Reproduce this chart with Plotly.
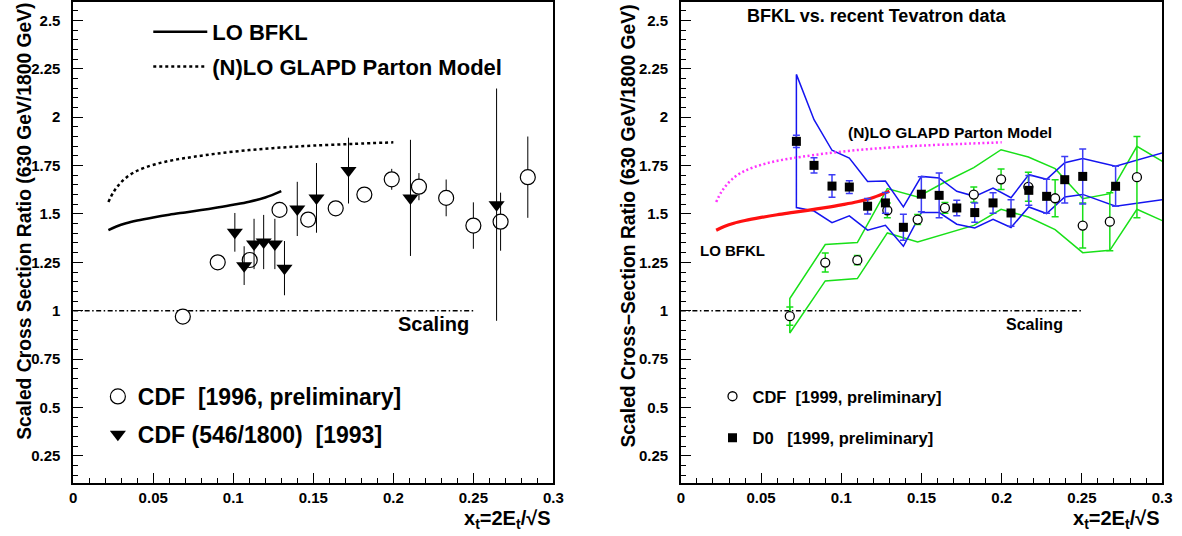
import plotly.graph_objects as go

# ---------------- data ----------------
# theory curves
bfkl_x = [0.022, 0.027, 0.033, 0.04, 0.05, 0.06, 0.07, 0.08, 0.09, 0.10, 0.11, 0.12, 0.13]
bfkl_y = [1.416, 1.435, 1.452, 1.466, 1.482, 1.496, 1.508, 1.52, 1.533, 1.547, 1.563, 1.585, 1.618]
glapd_x = [0.022, 0.025, 0.028, 0.032, 0.038, 0.045, 0.055, 0.065, 0.075, 0.09, 0.11, 0.13, 0.15, 0.175, 0.2]
glapd_y = [1.562, 1.61, 1.645, 1.68, 1.715, 1.74, 1.765, 1.782, 1.795, 1.812, 1.83, 1.843, 1.853, 1.862, 1.87]

# left panel data
cdf96_x = [0.0685, 0.0903, 0.1103, 0.1289, 0.1468, 0.164, 0.1819, 0.199, 0.216, 0.233, 0.250, 0.267, 0.284]
cdf96_y = [0.97, 1.25, 1.262, 1.521, 1.471, 1.529, 1.60, 1.679, 1.641, 1.583, 1.44, 1.46, 1.69]
cdf96_err = [0.03, 0.03, 0.02, 0.03, 0.02, 0.02, 0.03, 0.054, 0.07, 0.095, 0.12, 0.15, 0.21]

cdf93_x = [0.101, 0.1068, 0.113, 0.119, 0.126, 0.132, 0.140, 0.152, 0.172, 0.2107, 0.2645]
cdf93_y = [1.405, 1.233, 1.345, 1.355, 1.345, 1.22, 1.526, 1.583, 1.724, 1.583, 1.548]
cdf93_err = [0.10, 0.10, 0.13, 0.14, 0.13, 0.14, 0.14, 0.18, 0.17, 0.30, 0.60]

# right panel data
cdf99_x = [0.0679, 0.090, 0.110, 0.1287, 0.1476, 0.1646, 0.1826, 0.1996, 0.2166, 0.2333, 0.2505, 0.2674, 0.2843]
cdf99_y = [0.972, 1.249, 1.261, 1.519, 1.471, 1.531, 1.60, 1.679, 1.64, 1.581, 1.44, 1.46, 1.69]
cdf99_err = [0.047, 0.049, 0.024, 0.038, 0.026, 0.028, 0.039, 0.053, 0.075, 0.096, 0.116, 0.15, 0.21]

d0_x = [0.072, 0.083, 0.0942, 0.105, 0.1164, 0.1275, 0.1387, 0.1499, 0.161, 0.172, 0.1832,
        0.1946, 0.2058, 0.2169, 0.228, 0.2393, 0.2505, 0.271]
d0_y = [1.875, 1.751, 1.644, 1.639, 1.54, 1.557, 1.431, 1.602, 1.596, 1.531, 1.507,
        1.557, 1.505, 1.622, 1.591, 1.677, 1.694, 1.643]
d0_err = [0.032, 0.039, 0.058, 0.033, 0.04, 0.054, 0.067, 0.09, 0.116, 0.04, 0.05,
          0.053, 0.069, 0.077, 0.088, 0.12, 0.142, 0.103]

# systematic bands
cdf_band_x = [0.0679, 0.090, 0.110, 0.1287, 0.1476, 0.1646, 0.1826, 0.1996, 0.2166, 0.2333, 0.2505, 0.2674, 0.2843, 0.301]
cdf_band_hi = [1.063, 1.342, 1.352, 1.631, 1.588, 1.665, 1.739, 1.832, 1.794, 1.734, 1.579, 1.605, 1.849, 1.768]
cdf_band_lo = [0.885, 1.154, 1.166, 1.402, 1.355, 1.397, 1.441, 1.524, 1.484, 1.419, 1.30, 1.312, 1.524, 1.462]

d0_band_x = [0.072, 0.083, 0.0942, 0.105, 0.1164, 0.1275, 0.1387, 0.1499, 0.161, 0.172, 0.1832,
             0.1946, 0.2058, 0.2169, 0.228, 0.2393, 0.2505, 0.271, 0.301]
d0_band_hi = [2.221, 1.987, 1.829, 1.789, 1.668, 1.67, 1.536, 1.694, 1.686, 1.617, 1.591,
              1.634, 1.584, 1.703, 1.679, 1.765, 1.786, 1.746, 1.817]
d0_band_lo = [1.533, 1.515, 1.455, 1.49, 1.416, 1.441, 1.333, 1.507, 1.507, 1.447, 1.428,
              1.472, 1.43, 1.536, 1.502, 1.588, 1.601, 1.54, 1.574]

scaling_x = [0.0, 0.25]
scaling_y = [1.0, 1.0]

x_tick_vals = [0, 0.05, 0.1, 0.15, 0.2, 0.25, 0.3]
x_tick_text = ["0", "0.05", "0.1", "0.15", "0.2", "0.25", "0.3"]
y_tick_vals = [0.25, 0.5, 0.75, 1.0, 1.25, 1.5, 1.75, 2.0, 2.25, 2.5]
y_tick_text = ["0.25", "0.5", "0.75", "1", "1.25", "1.5", "1.75", "2", "2.25", "2.5"]

# ---------------- figure ----------------
W, H = 1182, 536
FONT = "Liberation Sans"
GREEN = "#18e018"
BLUE = "#1414f0"

fig = go.Figure()

# ---- left panel ----
fig.add_trace(go.Scatter(x=scaling_x, y=scaling_y, mode="lines", xaxis="x", yaxis="y",
                         line=dict(color="black", width=1.5, dash="5px,2.5px,1.5px,2.5px"),
                         showlegend=False, hoverinfo="skip"))
fig.add_trace(go.Scatter(x=bfkl_x, y=bfkl_y, mode="lines", xaxis="x", yaxis="y",
                         name="LO BFKL", legend="legend", legendgroup="a",
                         line=dict(color="black", width=2.5, shape="spline")))
fig.add_trace(go.Scatter(x=glapd_x, y=glapd_y, mode="lines", xaxis="x", yaxis="y",
                         name="(N)LO GLAPD Parton Model", legend="legend", legendgroup="b",
                         line=dict(color="black", width=2.5, dash="3px,3px", shape="spline")))
fig.add_trace(go.Scatter(x=cdf96_x, y=cdf96_y, mode="markers", xaxis="x", yaxis="y",
                         name="CDF  [1996, preliminary]", legend="legend2", legendgroup="c",
                         error_y=dict(type="data", array=cdf96_err, color="black", thickness=1, width=0),
                         marker=dict(symbol="circle", size=15, color="white",
                                     line=dict(color="black", width=1.2))))
fig.add_trace(go.Scatter(x=cdf93_x, y=cdf93_y, mode="markers", xaxis="x", yaxis="y",
                         name="CDF (546/1800)  [1993]", legend="legend2", legendgroup="d",
                         error_y=dict(type="data", array=cdf93_err, color="black", thickness=1, width=0),
                         marker=dict(symbol="triangle-down", size=14, color="black")))

# ---- right panel ----
fig.add_trace(go.Scatter(x=scaling_x, y=scaling_y, mode="lines", xaxis="x2", yaxis="y2",
                         line=dict(color="black", width=1.5, dash="5px,2.5px,1.5px,2.5px"),
                         showlegend=False, hoverinfo="skip"))
fig.add_trace(go.Scatter(x=cdf_band_x[::-1] + cdf_band_x, y=cdf_band_hi[::-1] + cdf_band_lo,
                         mode="lines", xaxis="x2", yaxis="y2",
                         line=dict(color=GREEN, width=1.5), showlegend=False, hoverinfo="skip"))
fig.add_trace(go.Scatter(x=d0_band_x[::-1] + d0_band_x, y=d0_band_hi[::-1] + d0_band_lo,
                         mode="lines", xaxis="x2", yaxis="y2",
                         line=dict(color=BLUE, width=1.5), showlegend=False, hoverinfo="skip"))
fig.add_trace(go.Scatter(x=glapd_x, y=glapd_y, mode="lines", xaxis="x2", yaxis="y2",
                         line=dict(color="#ff33ff", width=2.5, dash="2px,2.5px", shape="spline"),
                         showlegend=False))
fig.add_trace(go.Scatter(x=bfkl_x, y=bfkl_y, mode="lines", xaxis="x2", yaxis="y2",
                         line=dict(color="#ff1010", width=3.2, shape="spline"),
                         showlegend=False))
fig.add_trace(go.Scatter(x=cdf99_x, y=cdf99_y, mode="markers", xaxis="x2", yaxis="y2",
                         name="CDF  [1999, preliminary]", legend="legend3", legendgroup="e",
                         error_y=dict(type="data", array=cdf99_err, color=GREEN, thickness=1.5, width=3.5),
                         marker=dict(symbol="circle", size=9, color="white",
                                     line=dict(color="black", width=1.3))))
fig.add_trace(go.Scatter(x=d0_x, y=d0_y, mode="markers", xaxis="x2", yaxis="y2",
                         name="D0   [1999, preliminary]", legend="legend3", legendgroup="f",
                         error_y=dict(type="data", array=d0_err, color="#3c3cf5", thickness=1.5, width=3.5),
                         marker=dict(symbol="square", size=9, color="black")))

tickfont = dict(family=FONT, size=15, color="black", weight="bold")


def xaxis(domain, anchor):
    return dict(domain=domain, anchor=anchor, range=[0, 0.3], tickmode="array",
                tickvals=x_tick_vals, ticktext=x_tick_text, ticks="inside", ticklen=10,
                tickwidth=1, tickcolor="black", showline=True, linecolor="black",
                linewidth=1.5, mirror=True, showgrid=False, zeroline=False,
                tickfont=tickfont,
                minor=dict(tickmode="linear", tick0=0, dtick=0.01, ticks="inside",
                           ticklen=5, tickcolor="black", tickwidth=1, showgrid=False))


def yaxis(domain, anchor):
    return dict(domain=domain, anchor=anchor, range=[0.11, 2.595], tickmode="array",
                tickvals=y_tick_vals, ticktext=y_tick_text, ticks="inside", ticklen=10,
                tickwidth=1, tickcolor="black", showline=True, linecolor="black",
                linewidth=1.5, mirror=True, showgrid=False, zeroline=False,
                tickfont=tickfont, ticklabelstandoff=8,
                minor=dict(tickmode="linear", tick0=0, dtick=0.05, ticks="inside",
                           ticklen=5, tickcolor="black", tickwidth=1, showgrid=False))


ydom = [53 / H, 534 / H]
left_dom = [70 / W, 556 / W]
right_dom = [685 / W, 1172 / W]

bold = lambda s: dict(family=FONT, size=s, color="black", weight="bold")

annotations = [
    dict(text="Scaled Cross Section Ratio (630 GeV/1800 GeV)", xref="paper", yref="paper",
         x=20 / W, y=1 - 221 / H, textangle=-90, showarrow=False, font=bold(19.3),
         xanchor="center", yanchor="middle"),
    dict(text="Scaled Cross−Section Ratio (630 GeV/1800 GeV)", xref="paper", yref="paper",
         x=632 / W, y=1 - 226 / H, textangle=-90, showarrow=False, font=bold(19.3),
         xanchor="center", yanchor="middle"),
    dict(text="x<sub>t</sub>=2E<sub>t</sub>/√S", xref="paper", yref="paper",
         x=556 / W, y=1 - 519 / H, showarrow=False, font=bold(20),
         xanchor="right", yanchor="middle"),
    dict(text="x<sub>t</sub>=2E<sub>t</sub>/√S", xref="paper", yref="paper",
         x=1172 / W, y=1 - 519 / H, showarrow=False, font=bold(20),
         xanchor="right", yanchor="middle"),
    dict(text="Scaling", xref="x", yref="y", x=0.2488, y=0.93, showarrow=False,
         font=bold(20), xanchor="right", yanchor="middle"),
    dict(text="Scaling", xref="x2", yref="y2", x=0.2395, y=0.929, showarrow=False,
         font=bold(16), xanchor="right", yanchor="middle"),
    dict(text="BFKL vs. recent Tevatron data", xref="x2", yref="y2", x=0.04, y=2.525,
         showarrow=False, font=bold(18), xanchor="left", yanchor="middle"),
    dict(text="(N)LO GLAPD Parton Model", xref="x2", yref="y2", x=0.103, y=1.923,
         showarrow=False, font=bold(15.5), xanchor="left", yanchor="middle"),
    dict(text="LO BFKL", xref="x2", yref="y2", x=0.0104, y=1.312,
         showarrow=False, font=bold(15), xanchor="left", yanchor="middle"),
]

fig.update_layout(
    width=W, height=H, margin=dict(l=0, r=0, t=0, b=0),
    paper_bgcolor="white", plot_bgcolor="white",
    xaxis=xaxis(left_dom, "y"), yaxis=yaxis(ydom, "x"),
    xaxis2=xaxis(right_dom, "y2"), yaxis2=yaxis(ydom, "x2"),
    annotations=annotations,
    legend=dict(x=146 / W, y=1 - 11 / H, xanchor="left", yanchor="top", font=bold(22),
                bgcolor="rgba(0,0,0,0)", itemwidth=54, tracegroupgap=3),
    legend2=dict(x=95 / W, y=1 - 375 / H, xanchor="left", yanchor="top", font=bold(23),
                 bgcolor="rgba(0,0,0,0)", tracegroupgap=5),
    legend3=dict(x=717 / W, y=1 - 379 / H, xanchor="left", yanchor="top", font=bold(16.5),
                 bgcolor="rgba(0,0,0,0)", tracegroupgap=17),
    showlegend=True,
)

fig.write_html("out.html", config={"displayModeBar": False},
               post_script="document.body.style.margin='0px';document.body.style.overflow='hidden';")
